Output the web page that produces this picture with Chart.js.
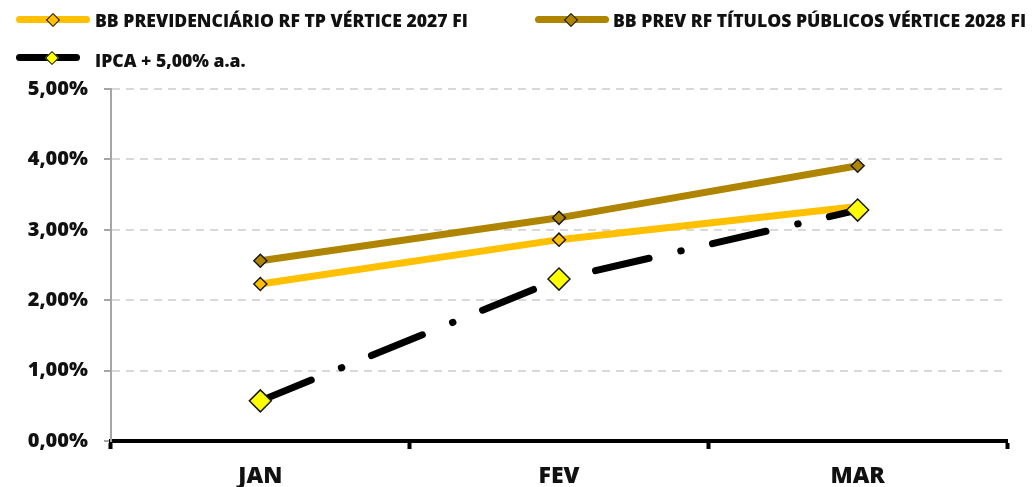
<!DOCTYPE html>
<html>
<head>
<meta charset="utf-8">
<script src="https://cdn.jsdelivr.net/npm/chart.js@4"></script>
<style>
  html, body { margin: 0; padding: 0; background: #fff; }
  #wrap { position: relative; width: 1035px; height: 487px; }
  #chart { position: absolute; left: 0; top: 0; }
  .lg-item { position: absolute; height: 20px; font: 800 17.6px/20px "Open Sans", sans-serif; color: #111; white-space: nowrap; }
  .lg-line { position: absolute; top: 6px; height: 7px; border-radius: 4px; }
  .lg-mark { position: absolute; top: 4.5px; width: 8px; height: 8px; transform: rotate(45deg); border: 1.5px solid #111; }
  .lg-text { position: absolute; }
</style>
</head>
<body>
<div id="wrap">
  <canvas id="chart" width="1035" height="487"></canvas>
  <div id="legend"></div>
</div>
<script>
// ── data ──────────────────────────────────────────────
const MONTHS = ['JAN', 'FEV', 'MAR'];
const NAMES = [
    'BB PREVIDENCIÁRIO RF TP VÉRTICE 2027 FI',
    'BB PREV RF TÍTULOS PÚBLICOS VÉRTICE 2028 FI',
    'IPCA + 5,00% a.a.',
];
const VERTICE_2027 = [2.23, 2.86, 3.33];
const VERTICE_2028 = [2.56, 3.17, 3.91];
const IPCA_5 = [0.57, 2.30, 3.28];
const Y_TICKS = [0, 1, 2, 3, 4, 5];

const LINE_CLR = ['#FFC000', '#AF8500', '#000000'];
const MARK_CLR = ['#FFC000', '#AF8500', '#FFFF00'];

const pct = v => v.toFixed(2).replace('.', ',') + '%';

// ── legend (html) ─────────────────────────────────────
const LG_POS = [
    { x: 16, y: 10, w: 74, mark: 37, text: 79, ty: -0.5 },
    { x: 535, y: 10, w: 74, mark: 36, text: 78, ty: -0.5 },
    { x: 16, y: 48, w: 64, mark: 36, text: 79, ty: 1.5 },
];
document.getElementById('legend').innerHTML = NAMES.map((n, i) => {
    const p = LG_POS[i];
    return `<div class="lg-item" style="left:${p.x}px;top:${p.y}px">
      <div class="lg-line" style="left:0;width:${p.w}px;background:${LINE_CLR[i]}"></div>
      <div class="lg-mark" style="left:${p.mark - 5.5}px;background:${MARK_CLR[i]}"></div>
      <div class="lg-text" style="left:${p.text}px;top:${p.ty}px">${n}</div>
    </div>`;
}).join('');

// ── chart ─────────────────────────────────────────────
const FONT = 'Open Sans';

new Chart(document.getElementById('chart'), {
    type: 'line',
    data: {
        labels: MONTHS,
        datasets: [
            {
                label: NAMES[0],
                data: VERTICE_2027,
                order: 2,
                borderColor: LINE_CLR[0],
                borderWidth: 7,
                borderCapStyle: 'round',
                pointStyle: 'rectRot',
                pointRadius: 6.5,
                pointBackgroundColor: MARK_CLR[0],
                pointBorderColor: '#1a1a1a',
                pointBorderWidth: 1.5,
            },
            {
                label: NAMES[1],
                data: VERTICE_2028,
                order: 1,
                borderColor: LINE_CLR[1],
                borderWidth: 7,
                borderCapStyle: 'round',
                pointStyle: 'rectRot',
                pointRadius: 6.5,
                pointBackgroundColor: MARK_CLR[1],
                pointBorderColor: '#1a1a1a',
                pointBorderWidth: 1.5,
            },
            {
                label: NAMES[2],
                data: IPCA_5,
                order: 0,
                borderColor: LINE_CLR[2],
                borderWidth: 7,
                borderCapStyle: 'round',
                borderDash: [55, 32.5, 0.5, 32],
                pointStyle: 'rectRot',
                pointRadius: 11,
                pointBackgroundColor: MARK_CLR[2],
                pointBorderColor: '#1a1a1a',
                pointBorderWidth: 1.5,
            },
        ],
    },
    options: {
        responsive: false,
        animation: false,
        layout: { padding: { top: 89, right: 28, left: 0, bottom: 0 } },
        plugins: { legend: { display: false }, tooltip: { enabled: false } },
        scales: {
            x: {
                offset: true,
                grid: {
                    offset: true,
                    drawOnChartArea: false,
                    drawTicks: true,
                    tickLength: 8,
                    tickWidth: 4,
                    tickColor: '#000',
                },
                border: { color: '#000', width: 4 },
                ticks: {
                    color: '#111',
                    padding: 14,
                    font: { family: FONT, size: 23, weight: 800 },
                },
                afterFit: s => { s.height = 46; },
            },
            y: {
                min: 0,
                max: 5,
                afterBuildTicks: s => { s.ticks = Y_TICKS.map(v => ({ value: v })); },
                grid: {
                    color: '#d9d9d9',
                    lineWidth: 2,
                    drawTicks: true,
                    tickLength: 7,
                    tickColor: '#a6a6a6',
                },
                border: { color: '#a6a6a6', width: 2, dash: [8, 6] },
                ticks: {
                    color: '#111',
                    padding: 16,
                    callback: v => pct(v),
                    font: { family: FONT, size: 20, weight: 800 },
                },
                afterFit: s => { s.width = 111; },
            },
        },
    },
});
</script>
</body>
</html>
